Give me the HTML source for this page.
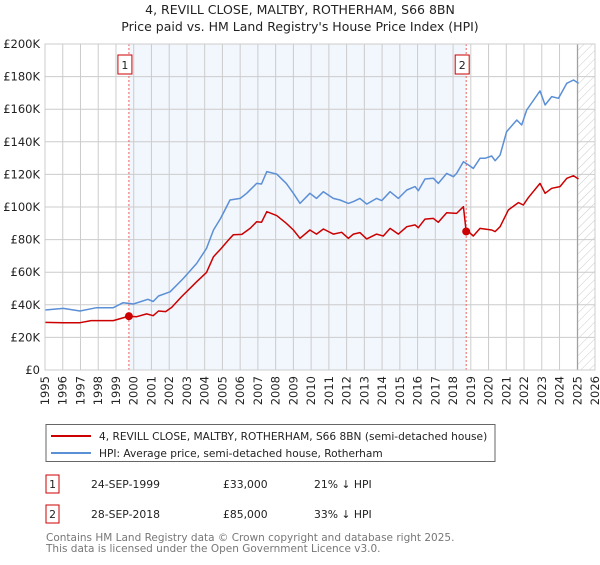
<!DOCTYPE html>
<html><head><meta charset="utf-8"><style>
body{margin:0;background:#fff;font-family:"Liberation Sans","DejaVu Sans",sans-serif;}
svg text{font-family:"DejaVu Sans","Liberation Sans",sans-serif;}
</style></head><body>
<svg id="c" width="600" height="560" viewBox="0 0 600 560" xmlns="http://www.w3.org/2000/svg">
<defs><pattern id="hatch" width="6" height="6" patternUnits="userSpaceOnUse" patternTransform="rotate(45)"><line x1="0" y1="0" x2="0" y2="6" stroke="#ccc" stroke-width="1"/></pattern></defs>
<text x="300" y="14" text-anchor="middle" font-size="12.5" fill="#222">4, REVILL CLOSE, MALTBY, ROTHERHAM, S66 8BN</text>
<text x="300" y="31" text-anchor="middle" font-size="12.5" fill="#222">Price paid vs. HM Land Registry's House Price Index (HPI)</text>
<g id="plot"></g>
<g>
<rect x="46" y="424.5" width="449" height="37" fill="#fff" stroke="#666"/>
<line x1="51" y1="436" x2="91" y2="436" stroke="#cc0000" stroke-width="2"/>
<text x="99" y="440" font-size="10.6" fill="#222">4, REVILL CLOSE, MALTBY, ROTHERHAM, S66 8BN (semi-detached house)</text>
<line x1="51" y1="453" x2="91" y2="453" stroke="#5b8fd6" stroke-width="2"/>
<text x="99" y="457" font-size="10.6" fill="#222">HPI: Average price, semi-detached house, Rotherham</text>
</g>
<g font-size="10.8" fill="#222">
<rect x="46" y="475" width="13" height="18" fill="#fff" stroke="#cc0000"/><text x="52.5" y="488" text-anchor="middle">1</text>
<text x="91" y="488">24-SEP-1999</text><text x="223" y="488">£33,000</text><text x="314" y="488">21% ↓ HPI</text>
<rect x="46" y="505" width="13" height="18" fill="#fff" stroke="#cc0000"/><text x="52.5" y="518" text-anchor="middle">2</text>
<text x="91" y="518">28-SEP-2018</text><text x="223" y="518">£85,000</text><text x="314" y="518">33% ↓ HPI</text>
</g>
<text x="46" y="541" font-size="10.5" fill="#777">Contains HM Land Registry data © Crown copyright and database right 2025.</text>
<text x="46" y="552" font-size="10.5" fill="#777">This data is licensed under the Open Government Licence v3.0.</text>
</svg>
<script>
const hpiYears=[1995,1996.03,1996.97,1997.9,1998.85,1999.4,1999.98,2000.8,2001.1,2001.4,2002.05,2002.8,2003.55,2004.1,2004.5,2004.9,2005.43,2006,2006.37,2006.93,2007.2,2007.5,2008.06,2008.6,2009,2009.37,2009.93,2010.3,2010.69,2011.25,2011.63,2012.1,2012.38,2012.75,2013.13,2013.69,2013.98,2014.45,2014.92,2015.39,2015.86,2016.04,2016.42,2016.89,2017.17,2017.64,2018.02,2018.2,2018.58,2018.86,2019.14,2019.52,2019.8,2020.18,2020.37,2020.65,2021.02,2021.59,2021.87,2022.15,2022.9,2023.19,2023.56,2023.94,2024.41,2024.79,2025.07];
const hpiValues=[36.8,37.8,36.2,38.2,38.2,41.3,40.5,43.4,42,45.4,48,56.2,65.4,74.6,85.9,93,104.3,105.3,108.4,114.5,114.1,121.7,120.2,114.5,108.4,102.2,108.4,105.3,109.4,105.3,104.3,102.2,103.3,105.3,101.8,105.3,103.9,109.4,105.3,110.4,112.5,110,117.2,117.6,114.5,120.6,118.6,120.6,127.8,125.8,123.7,129.9,129.9,131.3,128.4,131.9,146.2,153.4,150.3,159.5,171.2,162.6,167.7,166.7,175.9,177.9,175.9];
const propYears=[1995,1996.03,1996.97,1997.6,1998.1,1998.85,1999.73,2000.17,2000.73,2001.1,2001.4,2001.8,2002.14,2002.7,2003.27,2003.55,2004.1,2004.5,2004.9,2005.43,2005.62,2006.09,2006.56,2006.93,2007.2,2007.5,2008.06,2008.6,2009,2009.37,2009.93,2010.3,2010.69,2011.25,2011.72,2012.1,2012.38,2012.75,2013.13,2013.69,2014.07,2014.45,2014.92,2015.39,2015.86,2016.04,2016.42,2016.89,2017.17,2017.64,2018.2,2018.58,2018.74,2018.86,2019.14,2019.52,2020.18,2020.37,2020.65,2021.12,2021.68,2021.96,2022.24,2022.9,2023.19,2023.56,2024.03,2024.41,2024.79,2025.07];
const propValues=[29.2,29,29,30.3,30.3,30.3,33,32.7,34.4,33.3,36.2,35.8,38.4,45,51.1,54.2,59.9,69.5,74.2,80.8,83,83.2,86.9,91,90.6,97.1,94.7,90,85.9,80.8,85.9,83.4,86.5,83.4,84.5,80.8,83.4,84.3,80.4,83.4,82.2,86.9,83.4,87.9,89,87.3,92.6,93,90.6,96.5,96.1,100.2,85,84.9,82.2,86.9,85.9,84.9,87.9,98.2,102.7,101.2,105.7,114.5,108.4,111.5,112.5,117.6,119.2,117.2];
const saleYears=[1999.73,2018.74];
const saleValues=[33,85];
const saleLabels=["1","2"];
const yTicks=[0,20,40,60,80,100,120,140,160,180,200];
const xTicks=[1995,1996,1997,1998,1999,2000,2001,2002,2003,2004,2005,2006,2007,2008,2009,2010,2011,2012,2013,2014,2015,2016,2017,2018,2019,2020,2021,2022,2023,2024,2025,2026];
const L=45,R=595,T=44,B=370,X0=1995,X1=2026,YMAX=200,DATA_END=2025.05;
const sx=v=>L+(v-X0)/(X1-X0)*(R-L);
const sy=v=>B-v/YMAX*(B-T);
const NS="http://www.w3.org/2000/svg";
const g=document.getElementById('plot');
function mk(t,a,p){const e=document.createElementNS(NS,t);for(const k in a)e.setAttribute(k,a[k]);(p||g).appendChild(e);return e;}
let e;
e=mk('rect',{x:sx(saleYears[0]),y:T,width:sx(saleYears[1])-sx(saleYears[0]),height:B-T,fill:'#eef3fc',opacity:0.75});


e=mk('rect',{x:sx(DATA_END),y:T,width:R-sx(DATA_END),height:B-T,fill:'url(#hatch)'});


yTicks.forEach(v=>{
 e=mk('line',{x1:L,x2:R,y1:sy(v),y2:sy(v),stroke:'#ccc','stroke-width':1});
 
 
 e=mk('text',{x:40,y:sy(v)+4,'text-anchor':'end','font-size':11.5,fill:'#222'});
 e.textContent=v===0?'£0':'£'+v+'K';
 
 
});
xTicks.forEach(v=>{
 e=mk('line',{x1:sx(v),x2:sx(v),y1:T,y2:B,stroke:'#ccc','stroke-width':1});
 
 
 e=mk('text',{x:0,y:0,'text-anchor':'end','font-size':11.5,fill:'#222',transform:`translate(${sx(v)+4},${376}) rotate(-90)`});
 e.textContent=v;
 
 
});
e=mk('line',{x1:sx(DATA_END)-0.5,x2:sx(DATA_END)-0.5,y1:T,y2:B,stroke:'#999','stroke-width':1});


saleYears.forEach((yr,i)=>{
 e=mk('line',{x1:sx(yr),x2:sx(yr),y1:T,y2:B,stroke:'#f06060','stroke-width':1,'stroke-dasharray':'2,2'});
 
 
});
function line(xs,ys,col,name){
 const d=xs.map((x,i)=>(i?'L':'M')+sx(x).toFixed(1)+','+sy(ys[i]).toFixed(1)).join('');
 const p=mk('path',{d:d,fill:'none',stroke:col,'stroke-width':1.5,'stroke-linejoin':'round'});
 
 
}
line(hpiYears,hpiValues,'#5b8fd6','hpi-line');
line(propYears,propValues,'#cc0000','property-line');
saleYears.forEach((yr,i)=>{
 e=mk('circle',{cx:sx(yr),cy:sy(saleValues[i]),r:4,fill:'#cc0000'});
 
 
 e=mk('rect',{x:sx(yr)-11,y:55,width:14,height:19,fill:'#fff',stroke:'#cc0000'});
 
 
 e=mk('text',{x:sx(yr)-4,y:69,'text-anchor':'middle','font-size':11,fill:'#222'});
 e.textContent=saleLabels[i];
 
 
});
e=mk('rect',{x:L,y:T,width:R-L,height:B-T,fill:'none',stroke:'#ccc'});


</script>
</body></html>
